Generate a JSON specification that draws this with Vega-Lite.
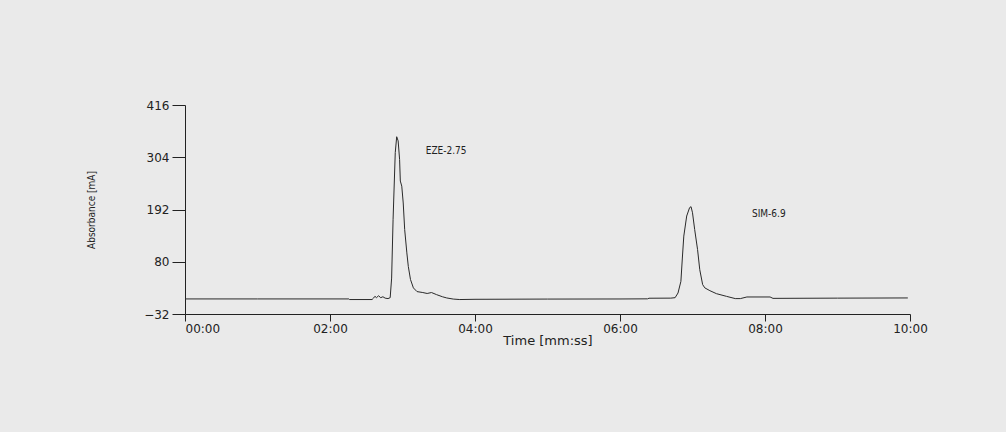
{
  "$schema": "https://vega.github.io/schema/vega-lite/v6.json",
  "autosize": {"type": "none"},
  "width": 725,
  "height": 209,
  "padding": {"left": 185, "top": 105, "right": 96, "bottom": 118},
  "background": "#eaeaea",
  "config": {"view": {"stroke": null}},
  "datasets": {
    "signal": [
      {"t": 0.00, "v": 0.3}, {"t": 1.00, "v": 0.3}, {"t": 2.00, "v": 0.3}, {"t": 2.26, "v": 0.3},
      {"t": 2.27, "v": -1}, {"t": 2.58, "v": -1}, {"t": 2.60, "v": 2}, {"t": 2.62, "v": 6},
      {"t": 2.64, "v": 3}, {"t": 2.67, "v": 7}, {"t": 2.70, "v": 3}, {"t": 2.73, "v": 5},
      {"t": 2.76, "v": 2}, {"t": 2.80, "v": 1}, {"t": 2.83, "v": 3}, {"t": 2.85, "v": 45},
      {"t": 2.87, "v": 170}, {"t": 2.90, "v": 314}, {"t": 2.92, "v": 348}, {"t": 2.94, "v": 339},
      {"t": 2.96, "v": 299}, {"t": 2.97, "v": 253}, {"t": 2.99, "v": 242}, {"t": 3.01, "v": 206},
      {"t": 3.03, "v": 149}, {"t": 3.06, "v": 99}, {"t": 3.08, "v": 70}, {"t": 3.11, "v": 42},
      {"t": 3.15, "v": 24}, {"t": 3.20, "v": 16}, {"t": 3.28, "v": 14}, {"t": 3.34, "v": 12},
      {"t": 3.40, "v": 14}, {"t": 3.47, "v": 9.5}, {"t": 3.55, "v": 5}, {"t": 3.61, "v": 2.4},
      {"t": 3.70, "v": 0}, {"t": 3.79, "v": -1}, {"t": 4.00, "v": -0.5}, {"t": 5.00, "v": 0},
      {"t": 6.00, "v": 0.2}, {"t": 6.38, "v": 0.5}, {"t": 6.40, "v": 1.8}, {"t": 6.70, "v": 2},
      {"t": 6.76, "v": 3}, {"t": 6.80, "v": 13}, {"t": 6.84, "v": 38}, {"t": 6.86, "v": 88},
      {"t": 6.88, "v": 135}, {"t": 6.92, "v": 178}, {"t": 6.96, "v": 196}, {"t": 6.98, "v": 198},
      {"t": 7.00, "v": 185}, {"t": 7.03, "v": 149}, {"t": 7.07, "v": 106}, {"t": 7.10, "v": 63},
      {"t": 7.14, "v": 31}, {"t": 7.17, "v": 24}, {"t": 7.24, "v": 18}, {"t": 7.33, "v": 11.6},
      {"t": 7.47, "v": 5.8}, {"t": 7.59, "v": 1}, {"t": 7.66, "v": 1}, {"t": 7.75, "v": 4.5},
      {"t": 8.07, "v": 4.5}, {"t": 8.11, "v": 1.5}, {"t": 9.00, "v": 2}, {"t": 9.97, "v": 2.4}
    ],
    "peaks": [
      {"t": 3.32, "v": 317, "label": "EZE-2.75"},
      {"t": 7.82, "v": 183, "label": "SIM-6.9"}
    ]
  },
  "layer": [
    {
      "data": {"name": "signal"},
      "mark": {"type": "line", "color": "#2a2a2a", "strokeWidth": 1, "interpolate": "linear"},
      "encoding": {
        "x": {
          "field": "t", "type": "quantitative",
          "scale": {"domain": [0, 10], "nice": false, "zero": false},
          "axis": {
            "title": "Time [mm:ss]",
            "values": [0, 2, 4, 6, 8, 10],
            "labelExpr": "(datum.value < 10 ? '0' : '') + datum.value + ':00'",
            "labelAlign": {"condition": {"test": "datum.value == 0", "value": "left"}, "value": "center"},
            "grid": false,
            "domainColor": "#222222", "tickColor": "#222222",
            "tickSize": 7, "labelPadding": 2,
            "labelFont": "DejaVu Sans", "labelFontSize": 12, "labelColor": "#222222",
            "titleFont": "DejaVu Sans", "titleFontSize": 13, "titleFontWeight": "normal",
            "titleColor": "#222222", "titlePadding": 0
          }
        },
        "y": {
          "field": "v", "type": "quantitative",
          "scale": {"domain": [-32, 416], "nice": false, "zero": false},
          "axis": {
            "title": "Absorbance [mA]",
            "values": [-32, 80, 192, 304, 416],
            "grid": false,
            "domainColor": "#222222", "tickColor": "#222222",
            "tickSize": 13, "labelPadding": 3,
            "labelFont": "DejaVu Sans", "labelFontSize": 12, "labelColor": "#222222",
            "titleFont": "DejaVu Sans Condensed, Liberation Sans, sans-serif", "titleFontSize": 10, "titleFontWeight": "normal",
            "titleColor": "#222222", "titlePadding": 47
          }
        }
      }
    },
    {
      "data": {"name": "peaks"},
      "mark": {"type": "text", "align": "left", "baseline": "middle", "font": "DejaVu Sans Condensed, Liberation Sans, sans-serif", "fontSize": 10, "color": "#222222"},
      "encoding": {
        "x": {"field": "t", "type": "quantitative"},
        "y": {"field": "v", "type": "quantitative"},
        "text": {"field": "label"}
      }
    }
  ]
}
